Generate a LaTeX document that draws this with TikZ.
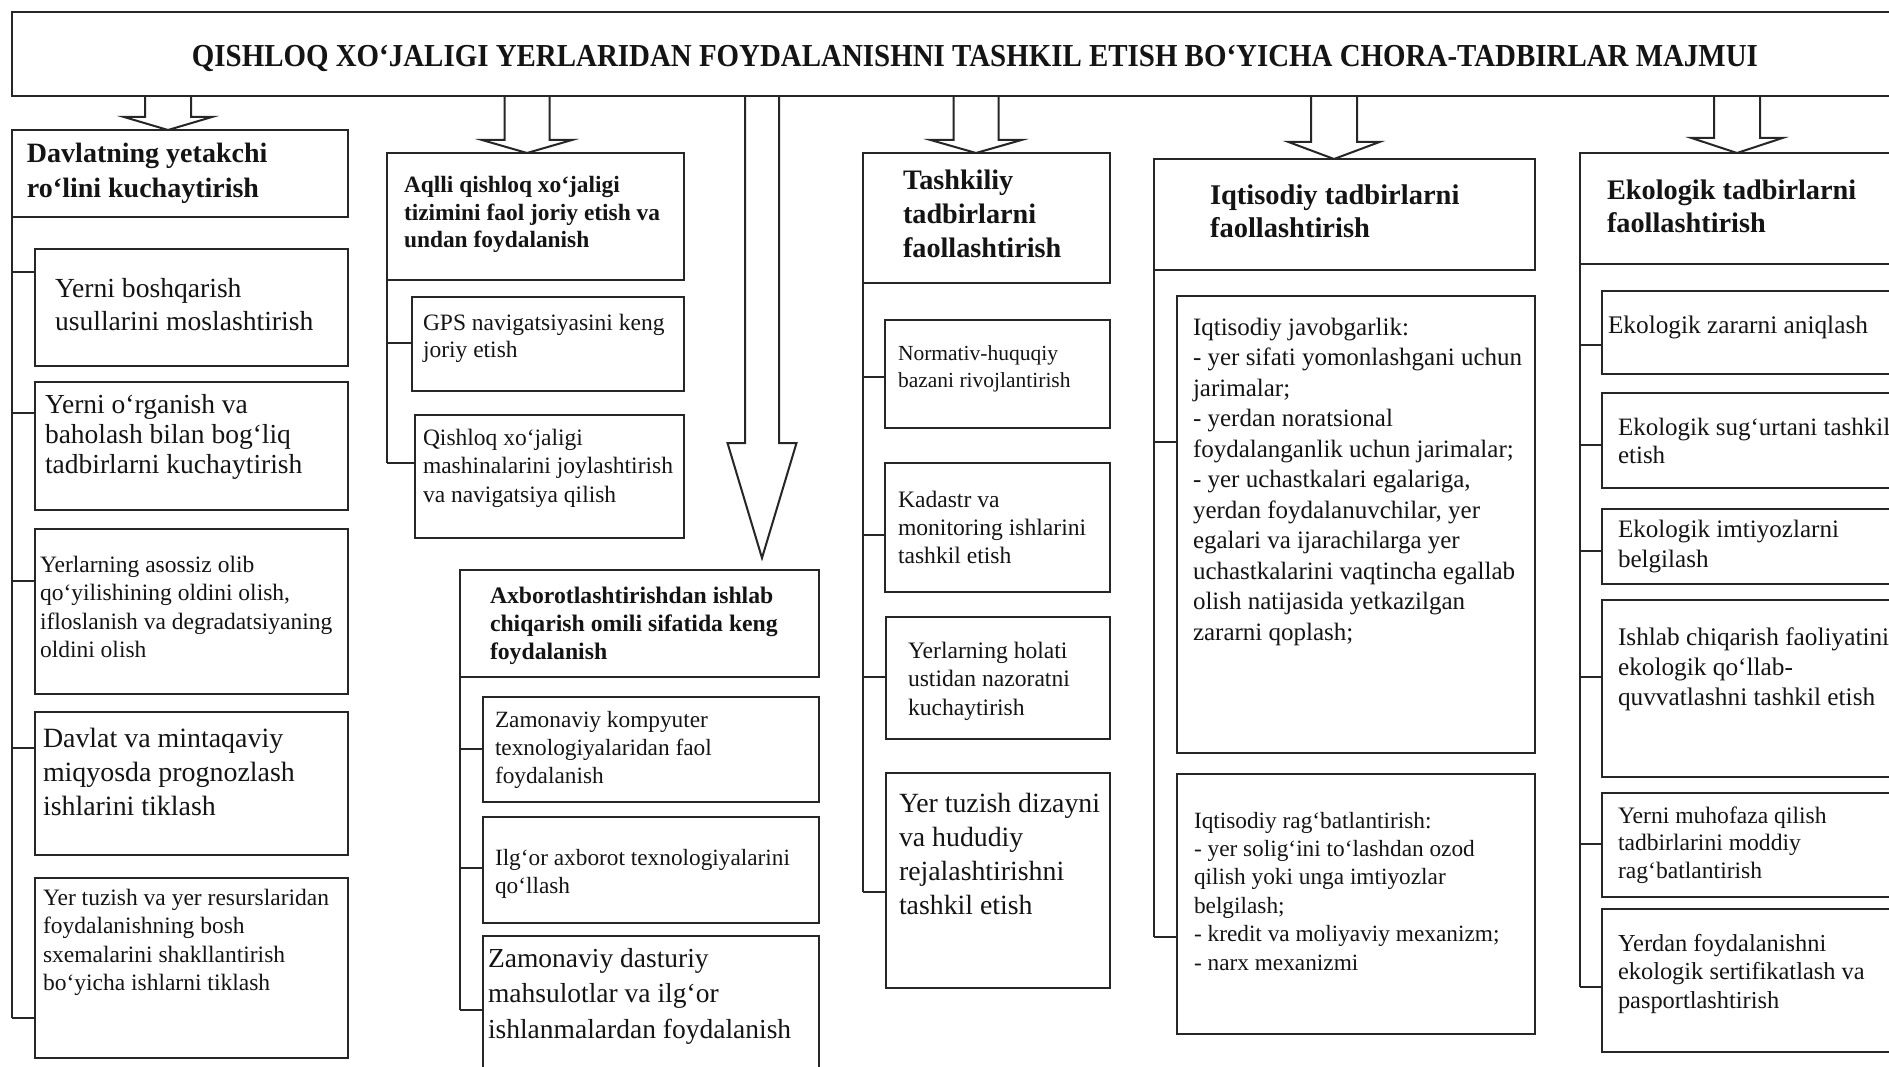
\documentclass[tikz,border=0pt]{standalone}
\usepackage{fontspec}
\setmainfont{Liberation Serif}
\newfontfamily\titlefont{Liberation Serif}[FakeStretch=0.904]
\newcommand{\mylines}[1]{\begin{tabular}[t]{@{}l@{}}#1\end{tabular}}
\newcommand{\mytext}[7][]{\node[txt] (#2) at (#3,#4) {\fontsize{#5}{#6}\selectfont#1\mylines{#7}};}
\newcommand{\mybox}[5]{\node[box, minimum width={#4-#2}, minimum height={#5-#3}] (#1) at (#2,#3) {};}
\newcommand{\hollowarrow}[5]{\draw[arr] (#1-#2,96) -- (#1-#2,#4) -- (#1-#3,#4) -- (#1,#5) -- (#1+#3,#4) -- (#1+#2,#4) -- (#1+#2,96);}
\tikzset{
  box/.style={rectangle, draw=black!85, line width=2pt, fill=white, inner sep=0pt, outer sep=0pt, anchor=north west},
  txt/.style={inner sep=0pt, outer sep=0pt, anchor=base west, text=black!92},
  conn/.style={draw=black!85, line width=2pt},
  arr/.style={draw=black!85, line width=2pt, fill=white, line join=miter}
}
\begin{document}
\begin{tikzpicture}[x=1pt,y=-1pt]
\useasboundingbox (0,0) rectangle (1889,1067);
\clip (0,0) rectangle (1889,1067);
% block arrows
\hollowarrow{168}{23}{44}{117}{130}
\hollowarrow{527}{22.5}{45}{140}{153}
\hollowarrow{762}{17}{34.5}{443}{558}
\hollowarrow{976}{22.5}{45.5}{140}{153}
\hollowarrow{1334}{23}{45.5}{142}{159}
\hollowarrow{1737}{23}{45.5}{138}{153}
% title
\mybox{title}{12}{12}{1900}{96}
\node[txt, anchor=base] (tt) at (975,67) {\titlefont\bfseries\fontsize{32}{38}\selectfont QISHLOQ XO‘JALIGI YERLARIDAN FOYDALANISHNI TASHKIL ETISH BO‘YICHA CHORA-TADBIRLAR MAJMUI};
% ---------- column 1
\mybox{h1}{12}{130}{348}{217}
\mybox{b11}{35}{249}{348}{366}
\mybox{b12}{35}{382}{348}{510}
\mybox{b13}{35}{529}{348}{694}
\mybox{b14}{35}{712}{348}{855}
\mybox{b15}{35}{878}{348}{1058}
\coordinate (c11) at (12,272);
\coordinate (c12) at (12,413);
\coordinate (c13) at (12,581);
\coordinate (c14) at (12,748);
\coordinate (c15) at (12,1018);
\draw[conn] (h1.south west) -- (c15);
\draw[conn] (c11) -- (c11 -| b11.west);
\draw[conn] (c12) -- (c12 -| b12.west);
\draw[conn] (c13) -- (c13 -| b13.west);
\draw[conn] (c14) -- (c14 -| b14.west);
\draw[conn] (c15) -- (c15 -| b15.west);
\mytext[\bfseries]{t1}{27}{163}{28}{35}{Davlatning yetakchi\\ro‘lini kuchaytirish}
\mytext{x11}{55}{297}{27.6}{33}{Yerni boshqarish\\usullarini moslashtirish}
\mytext{x12}{45}{413}{27.5}{30}{Yerni o‘rganish va\\baholash bilan bog‘liq\\tadbirlarni kuchaytirish}
\mytext{x13}{40}{572}{23.5}{28.5}{Yerlarning asossiz olib\\qo‘yilishining oldini olish,\\ifloslanish va degradatsiyaning\\oldini olish}
\mytext{x14}{43}{747}{27.9}{34}{Davlat va mintaqaviy\\miqyosda prognozlash\\ishlarini tiklash}
\mytext{x15}{43}{905}{23.5}{28.5}{Yer tuzish va yer resurslaridan\\foydalanishning bosh\\sxemalarini shakllantirish\\bo‘yicha ishlarni tiklash}
% ---------- column 2
\mybox{h2}{387}{153}{684}{280}
\mybox{b21}{412}{297}{684}{391}
\mybox{b22}{415}{415}{684}{538}
\coordinate (c21) at (387,343);
\coordinate (c22) at (387,463);
\draw[conn] (h2.south west) -- (c22);
\draw[conn] (c21) -- (c21 -| b21.west);
\draw[conn] (c22) -- (c22 -| b22.west);
\mytext[\bfseries]{t2}{404}{193}{23.4}{27.5}{Aqlli qishloq xo‘jaligi\\tizimini faol joriy etish va\\undan foydalanish}
\mytext{x21}{423}{330}{23.5}{28}{GPS navigatsiyasini keng\\joriy etish}
\mytext{x22}{423}{445}{23.5}{28.5}{Qishloq xo‘jaligi\\mashinalarini joylashtirish\\va navigatsiya qilish}
% ---------- column 2b
\mybox{h2b}{460}{570}{819}{677}
\mybox{b2b1}{483}{697}{819}{802}
\mybox{b2b2}{483}{817}{819}{923}
\mybox{b2b3}{483}{936}{819}{1085}
\coordinate (c2b1) at (460,749);
\coordinate (c2b2) at (460,868);
\coordinate (c2b3) at (460,1010);
\draw[conn] (h2b.south west) -- (c2b3);
\draw[conn] (c2b1) -- (c2b1 -| b2b1.west);
\draw[conn] (c2b2) -- (c2b2 -| b2b2.west);
\draw[conn] (c2b3) -- (c2b3 -| b2b3.west);
\mytext[\bfseries]{t2b}{490}{603}{23.7}{28}{Axborotlashtirishdan ishlab\\chiqarish omili sifatida keng\\foydalanish}
\mytext{x2b1}{495}{727}{23.3}{28}{Zamonaviy kompyuter\\texnologiyalaridan faol\\foydalanish}
\mytext{x2b2}{495}{865}{23.3}{28}{Ilg‘or axborot texnologiyalarini\\qo‘llash}
\mytext{x2b3}{488}{967}{27.5}{35.5}{Zamonaviy dasturiy\\mahsulotlar va ilg‘or\\ishlanmalardan foydalanish}
% ---------- column 3
\mybox{h3}{863}{153}{1110}{283}
\mybox{b31}{885}{320}{1110}{428}
\mybox{b32}{885}{463}{1110}{592}
\mybox{b33}{886}{617}{1110}{739}
\mybox{b34}{886}{773}{1110}{988}
\coordinate (c31) at (863,377);
\coordinate (c32) at (863,535);
\coordinate (c33) at (863,677);
\coordinate (c34) at (863,892);
\draw[conn] (h3.south west) -- (c34);
\draw[conn] (c31) -- (c31 -| b31.west);
\draw[conn] (c32) -- (c32 -| b32.west);
\draw[conn] (c33) -- (c33 -| b33.west);
\draw[conn] (c34) -- (c34 -| b34.west);
\mytext[\bfseries]{t3}{903}{190}{28.2}{34}{Tashkiliy\\tadbirlarni\\faollashtirish}
\mytext{x31}{898}{360}{21.5}{27}{Normativ-huquqiy\\bazani rivojlantirish}
\mytext{x32}{898}{507}{23.6}{28}{Kadastr va\\monitoring ishlarini\\tashkil etish}
\mytext{x33}{908}{658}{23.6}{28.5}{Yerlarning holati\\ustidan nazoratni\\kuchaytirish}
\mytext{x34}{899}{812}{27.8}{34.3}{Yer tuzish dizayni\\va hududiy\\rejalashtirishni\\tashkil etish}
% ---------- column 4
\mybox{h4}{1154}{159}{1535}{270}
\mybox{b41}{1177}{296}{1535}{753}
\mybox{b42}{1177}{774}{1535}{1034}
\coordinate (c41) at (1154,442);
\coordinate (c42) at (1154,937);
\draw[conn] (h4.south west) -- (c42);
\draw[conn] (c41) -- (c41 -| b41.west);
\draw[conn] (c42) -- (c42 -| b42.west);
\mytext[\bfseries]{t4}{1210}{205}{28.5}{33}{Iqtisodiy tadbirlarni\\faollashtirish}
\mytext{x41}{1193}{335}{25}{30.5}{Iqtisodiy javobgarlik:\\- yer sifati yomonlashgani uchun\\jarimalar;\\- yerdan noratsional\\foydalanganlik uchun jarimalar;\\- yer uchastkalari egalariga,\\yerdan foydalanuvchilar, yer\\egalari va ijarachilarga yer\\uchastkalarini vaqtincha egallab\\olish natijasida yetkazilgan\\zararni qoplash;}
\mytext{x42}{1194}{828}{23.3}{28.4}{Iqtisodiy rag‘batlantirish:\\- yer solig‘ini to‘lashdan ozod\\qilish yoki unga imtiyozlar\\belgilash;\\- kredit va moliyaviy mexanizm;\\- narx mexanizmi}
% ---------- column 5
\mybox{h5}{1580}{153}{1900}{264}
\mybox{b51}{1602}{291}{1900}{374}
\mybox{b52}{1602}{393}{1900}{488}
\mybox{b53}{1602}{509}{1900}{584}
\mybox{b54}{1602}{600}{1900}{777}
\mybox{b55}{1602}{793}{1900}{897}
\mybox{b56}{1602}{909}{1900}{1052}
\coordinate (c51) at (1580,345);
\coordinate (c52) at (1580,445);
\coordinate (c53) at (1580,551);
\coordinate (c54) at (1580,677);
\coordinate (c55) at (1580,844);
\coordinate (c56) at (1580,987);
\draw[conn] (h5.south west) -- (c56);
\draw[conn] (c51) -- (c51 -| b51.west);
\draw[conn] (c52) -- (c52 -| b52.west);
\draw[conn] (c53) -- (c53 -| b53.west);
\draw[conn] (c54) -- (c54 -| b54.west);
\draw[conn] (c55) -- (c55 -| b55.west);
\draw[conn] (c56) -- (c56 -| b56.west);
\mytext[\bfseries]{t5}{1607}{200}{28.3}{33}{Ekologik tadbirlarni\\faollashtirish}
\mytext{x51}{1608}{333}{25.3}{30}{Ekologik zararni aniqlash}
\mytext{x52}{1618}{435}{25}{28}{Ekologik sug‘urtani tashkil\\etish}
\mytext{x53}{1618}{537}{25.1}{30}{Ekologik imtiyozlarni\\belgilash}
\mytext{x54}{1618}{645}{25.3}{30}{Ishlab chiqarish faoliyatini\\ekologik qo‘llab-\\quvvatlashni tashkil etish}
\mytext{x55}{1618}{823}{23.6}{27.5}{Yerni muhofaza qilish\\tadbirlarini moddiy\\rag‘batlantirish}
\mytext{x56}{1618}{951}{24.4}{28.5}{Yerdan foydalanishni\\ekologik sertifikatlash va\\pasportlashtirish}
\end{tikzpicture}
\end{document}
